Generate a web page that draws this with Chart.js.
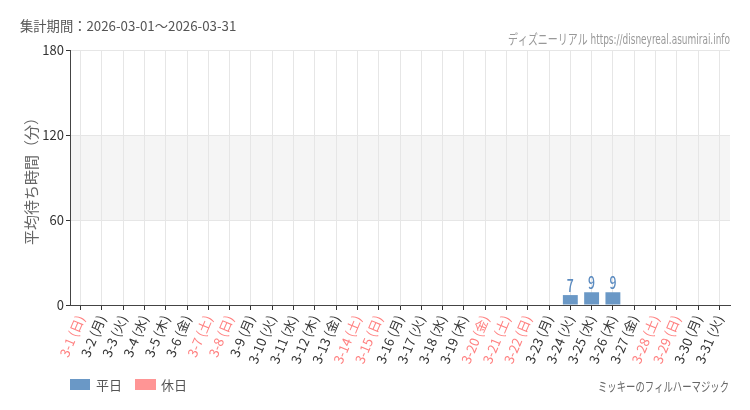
<!DOCTYPE html>
<html><head><meta charset="utf-8">
<script src="https://cdn.jsdelivr.net/npm/chart.js@4.4.1/dist/chart.umd.min.js"></script>
<style>html,body{margin:0;padding:0;background:#fff;}#wrap{width:750px;height:410px;}</style>
</head><body><div id="wrap"><canvas id="c" width="750" height="410"></canvas></div>
<script>
const dates = ["3-1","3-2","3-3","3-4","3-5","3-6","3-7","3-8","3-9","3-10","3-11","3-12","3-13","3-14","3-15","3-16","3-17","3-18","3-19","3-20","3-21","3-22","3-23","3-24","3-25","3-26","3-27","3-28","3-29","3-30","3-31"];
const weekdays = ["日","月","火","水","木","金","土","日","月","火","水","木","金","土","日","月","火","水","木","金","土","日","月","火","水","木","金","土","日","月","火"];
const holidays = [1,0,0,0,0,0,1,1,0,0,0,0,0,1,1,0,0,0,0,1,1,1,0,0,0,0,0,1,1,0,0];
const waitMinutes = [null,null,null,null,null,null,null,null,null,null,null,null,null,null,null,null,null,null,null,null,null,null,null,7,9,9,null,null,null,null,null];
const yTicks = [0,60,120,180];
const seriesNames = ["平日","休日"];
const titleText = "集計期間：2026-03-01～2026-03-31";
const siteText = "ディズニーリアル https://disneyreal.asumirai.info";
const attractionText = "ミッキーのフィルハーマジック";
const yTitle = "平均待ち時間（分）";

const BLUE = "#6a98c6", PINK = "#ff9595", HOLI_TXT = "#ff8080";
const labels = dates.map((d,i)=>d+" ("+weekdays[i]+")");
const CJK = '"Noto Sans CJK JP"';
const NARROW = '"Liberation Sans Narrow","DejaVu Sans Condensed","Noto Sans CJK JP",sans-serif';

function fitText(ctx, text, x, y, width, align){
  const w = ctx.measureText(text).width;
  const s = Math.min(1, width / w);
  ctx.save();
  ctx.translate(x, y);
  ctx.scale(s, 1);
  ctx.textAlign = align;
  ctx.fillText(text, 0, 0);
  ctx.restore();
}

const deco = {
  id: 'deco',
  beforeDraw(chart){
    const {ctx, chartArea:a, scales:{y}} = chart;
    ctx.save();
    ctx.fillStyle = '#f5f5f5';
    const t = y.getPixelForValue(120), b = y.getPixelForValue(60);
    ctx.fillRect(a.left, t, a.right - a.left, b - t);
    ctx.restore();
  },
  afterDraw(chart){
    const {ctx, chartArea:a} = chart;
    ctx.save();
    // title
    ctx.fillStyle = '#555';
    ctx.font = '13.3px ' + CJK;
    ctx.textBaseline = 'middle';
    ctx.textAlign = 'left';
    ctx.fillText(titleText, 20, 26);
    // site
    ctx.fillStyle = '#999';
    ctx.font = '14px ' + NARROW;
    ctx.textBaseline = 'middle';
    fitText(ctx, siteText, 730, 40, 222, 'right');
    // y title
    ctx.save();
    ctx.translate(31, (a.top + a.bottom)/2);
    ctx.rotate(-Math.PI/2);
    ctx.fillStyle = '#666';
    ctx.font = '15px ' + CJK;
    ctx.textAlign = 'center';
    ctx.textBaseline = 'middle';
    ctx.fillText(yTitle, 0, 0);
    ctx.restore();
    // legend
    ctx.fillStyle = BLUE; ctx.fillRect(70, 379, 20, 11);
    ctx.fillStyle = PINK; ctx.fillRect(135, 379, 21, 11);
    ctx.fillStyle = '#555';
    ctx.font = '13px ' + CJK;
    ctx.textAlign = 'left'; ctx.textBaseline = 'middle';
    ctx.fillText(seriesNames[0], 96, 385.5);
    ctx.fillText(seriesNames[1], 161, 385.5);
    // attraction
    ctx.fillStyle = '#666';
    ctx.font = '13px ' + CJK;
    fitText(ctx, attractionText, 729, 386, 131, 'right');
    // data labels
    const meta = chart.getDatasetMeta(0);
    ctx.fillStyle = '#5b8bc0';
    ctx.font = '500 17px ' + CJK;
    ctx.textBaseline = 'alphabetic';
    meta.data.forEach((bar, i) => {
      const v = waitMinutes[i];
      if (v == null) return;
      ctx.save();
      ctx.translate(bar.x, bar.y - 3);
      ctx.scale(0.72, 1);
      ctx.textAlign = 'center';
      ctx.fillText(String(v), 0, 0);
      ctx.restore();
    });
    ctx.restore();
  }
};

new Chart(document.getElementById('c'), {
  type: 'bar',
  data: {
    labels: labels,
    datasets: [{
      label: seriesNames[0],
      data: waitMinutes,
      backgroundColor: waitMinutes.map((v,i)=> holidays[i] ? PINK : BLUE),
      categoryPercentage: 0.7,
      barPercentage: 1.0
    }]
  },
  options: {
    responsive: false,
    animation: false,
    devicePixelRatio: 1,
    layout: { padding: { left: 0, right: 20, top: 50, bottom: 40 } },
    plugins: { legend: { display: false }, tooltip: { enabled: false } },
    scales: {
      x: {
        offset: true,
        grid: { offset: false, color: '#e6e6e6', tickColor: '#333', tickLength: 5, drawOnChartArea: true },
        border: { color: '#444', width: 1 },
        ticks: {
          autoSkip: false, minRotation: 67, maxRotation: 67, padding: 3,
          font: { family: 'Noto Sans CJK JP', size: 13 },
          color: (ctx) => holidays[ctx.index] ? HOLI_TXT : '#333'
        },
        afterFit(s){ s.height = 65; }
      },
      y: {
        min: 0, max: 180,
        afterBuildTicks(s){ s.ticks = yTicks.map(v=>({value:v})); },
        grid: { color: '#e6e6e6', tickColor: '#333', tickLength: 4 },
        border: { color: '#444', width: 1 },
        ticks: { padding: 2, font: { family: 'Noto Sans CJK JP', size: 13 }, color: '#333' },
        afterFit(s){ s.width = 70; }
      }
    }
  },
  plugins: [deco]
});
</script></body></html>
